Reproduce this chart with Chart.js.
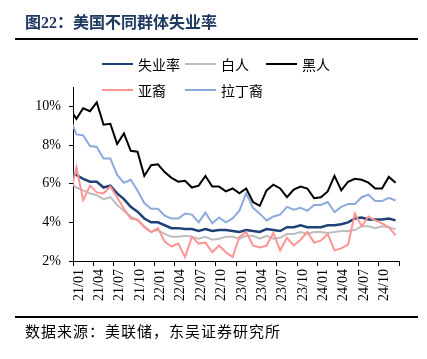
<!DOCTYPE html>
<html>
<head>
<meta charset="utf-8">
<script src="https://cdn.jsdelivr.net/npm/chart.js@4.4.1/dist/chart.umd.min.js"></script>
<style>
html,body{margin:0;padding:0;background:#fff;}
body{width:427px;height:359px;position:relative;overflow:hidden;font-family:"Liberation Serif","Noto Sans CJK SC",serif;}
#c{position:absolute;left:0;top:0;}
#title{position:absolute;left:25px;top:12px;font-size:16px;font-weight:bold;color:#1f3a60;line-height:22px;white-space:nowrap;}
.rule{position:absolute;left:15px;width:403px;height:2px;background:#000;}
#legend{position:absolute;left:102px;top:51px;display:grid;grid-template-columns:83px 81px 90px;grid-auto-rows:26px;}
.item{display:flex;align-items:center;font-size:14px;color:#000;white-space:nowrap;}
.swatch{display:inline-block;width:31px;margin-right:5px;}
#source{position:absolute;left:25px;top:323px;font-size:15px;letter-spacing:1px;line-height:18px;color:#000;white-space:nowrap;}
</style>
</head>
<body>
<canvas id="c" width="427" height="359"></canvas>
<div id="title">图22：美国不同群体失业率</div>
<div class="rule" style="top:38px"></div>
<div id="legend"></div>
<div class="rule" style="top:316px"></div>
<div id="source">数据来源：美联储，东吴证券研究所</div>
<script>
// Month labels (20/12 lies just left of the visible axis range)
const months = ['20/12',
  '21/01','21/02','21/03','21/04','21/05','21/06','21/07','21/08','21/09','21/10','21/11','21/12',
  '22/01','22/02','22/03','22/04','22/05','22/06','22/07','22/08','22/09','22/10','22/11','22/12',
  '23/01','23/02','23/03','23/04','23/05','23/06','23/07','23/08','23/09','23/10','23/11','23/12',
  '24/01','24/02','24/03','24/04','24/05','24/06','24/07','24/08','24/09','24/10','24/11','24/12'];

const seriesNames = ['失业率','白人','黑人','亚裔','拉丁裔'];

const unemp = [6.7,
  6.45,6.25,6.1,6.1,5.8,5.9,5.5,5.2,4.8,4.55,4.2,4.0,
  4.0,3.85,3.7,3.7,3.65,3.65,3.55,3.65,3.55,3.6,3.6,3.55,
  3.5,3.6,3.55,3.5,3.65,3.6,3.55,3.75,3.75,3.85,3.75,3.75,
  3.75,3.85,3.85,3.9,4.0,4.2,4.25,4.15,4.15,4.15,4.2,4.1];

const white = [6.05,
  5.8,5.65,5.5,5.4,5.2,5.3,4.9,4.6,4.3,4.1,3.8,3.5,
  3.6,3.4,3.25,3.25,3.3,3.25,3.15,3.25,3.1,3.15,3.25,3.25,
  3.15,3.3,3.3,3.15,3.3,3.15,3.2,3.4,3.4,3.5,3.4,3.5,
  3.5,3.45,3.5,3.55,3.55,3.6,3.8,3.8,3.7,3.8,3.75,3.65];

const black = [9.9,
  9.35,9.9,9.75,10.2,9.05,9.1,8.05,8.6,7.7,7.65,6.4,6.95,
  7.0,6.6,6.3,6.1,6.15,5.8,5.9,6.4,5.85,5.85,5.6,5.75,
  5.5,5.75,5.05,4.85,5.65,5.95,5.75,5.3,5.7,5.85,5.75,5.25,
  5.3,5.6,6.4,5.65,6.1,6.25,6.2,6.05,5.75,5.75,6.35,6.05];

const asian = [5.3,
  6.85,5.15,5.9,5.55,5.5,5.85,5.3,4.7,4.2,4.15,3.75,3.5,
  3.7,3.0,2.75,2.9,2.2,3.25,2.9,2.95,2.45,2.8,2.45,2.2,
  3.25,3.5,2.8,2.7,2.8,3.45,2.55,3.2,2.8,3.1,3.5,2.95,
  3.05,3.4,2.55,2.65,2.85,4.45,3.8,4.3,4.1,3.95,3.75,3.33];

const hispanic = [9.45,
  8.55,8.5,7.95,7.9,7.3,7.3,6.45,6.05,6.2,5.65,5.0,4.7,
  4.7,4.35,4.2,4.2,4.45,4.4,4.0,4.5,3.95,4.25,4.0,4.2,
  4.6,5.5,4.75,4.45,4.1,4.3,4.4,4.8,4.65,4.75,4.6,4.9,
  4.9,5.05,4.53,4.8,4.95,4.95,5.3,5.43,5.1,5.1,5.27,5.13];

const yTicks = [2,4,6,8,10];

const colors = ['#1f4178','#bdbdbd','#000000','#ff9494','#8eaadc'];
const widths = [2.5,2,2,2,2];
const values = [unemp, white, black, asian, hispanic];

const datasets = seriesNames.map((n,k)=>({
  label:n, data:values[k], borderColor:colors[k], backgroundColor:colors[k],
  borderWidth:widths[k], pointRadius:0, tension:0, fill:false, clip:0,
  order: seriesNames.length - k
}));

const chart = new Chart(document.getElementById('c'), {
  type:'line',
  data:{labels:months, datasets:datasets},
  options:{
    responsive:false, animation:false, devicePixelRatio:1,
    layout:{padding:{top:87,left:0,right:28,bottom:48}},
    plugins:{legend:{display:false}, tooltip:{enabled:false}},
    scales:{
      x:{
        type:'category', min:'21/01', offset:true,
        grid:{offset:true, drawOnChartArea:false, drawTicks:true, tickLength:5, lineWidth:1,
          color: ctx => (ctx.index === undefined || ctx.index % 3 === 0) ? '#000' : 'rgba(0,0,0,0)'},
        border:{display:true, color:'#000', width:1},
        ticks:{autoSkip:false, maxRotation:90, minRotation:90, padding:3, labelOffset:2.5,
          color:'#000', font:{family:'Liberation Serif', size:14},
          callback:function(v,i){ return i % 3 === 0 ? this.getLabelForValue(v) : ''; }},
        afterFit: s => { s.height = 50; }
      },
      y:{
        min:2, max:11,
        afterBuildTicks: s => { s.ticks = yTicks.map(v=>({value:v})); },
        grid:{drawOnChartArea:false, tickLength:4, color:'#000'},
        border:{display:true, color:'#000', width:1},
        ticks:{padding:8, color:'#000', font:{family:'Liberation Serif', size:14},
          callback: v => v + '%'},
        afterFit: s => { s.width = 73; }
      }
    }
  }
});

// HTML legend built from the chart's datasets
const leg = document.getElementById('legend');
chart.data.datasets.forEach(ds=>{
  const it = document.createElement('div'); it.className='item';
  const sw = document.createElement('span'); sw.className='swatch';
  sw.style.height = ds.borderWidth + 'px'; sw.style.background = ds.borderColor;
  const tx = document.createElement('span'); tx.textContent = ds.label;
  it.appendChild(sw); it.appendChild(tx); leg.appendChild(it);
});
</script>
</body>
</html>
